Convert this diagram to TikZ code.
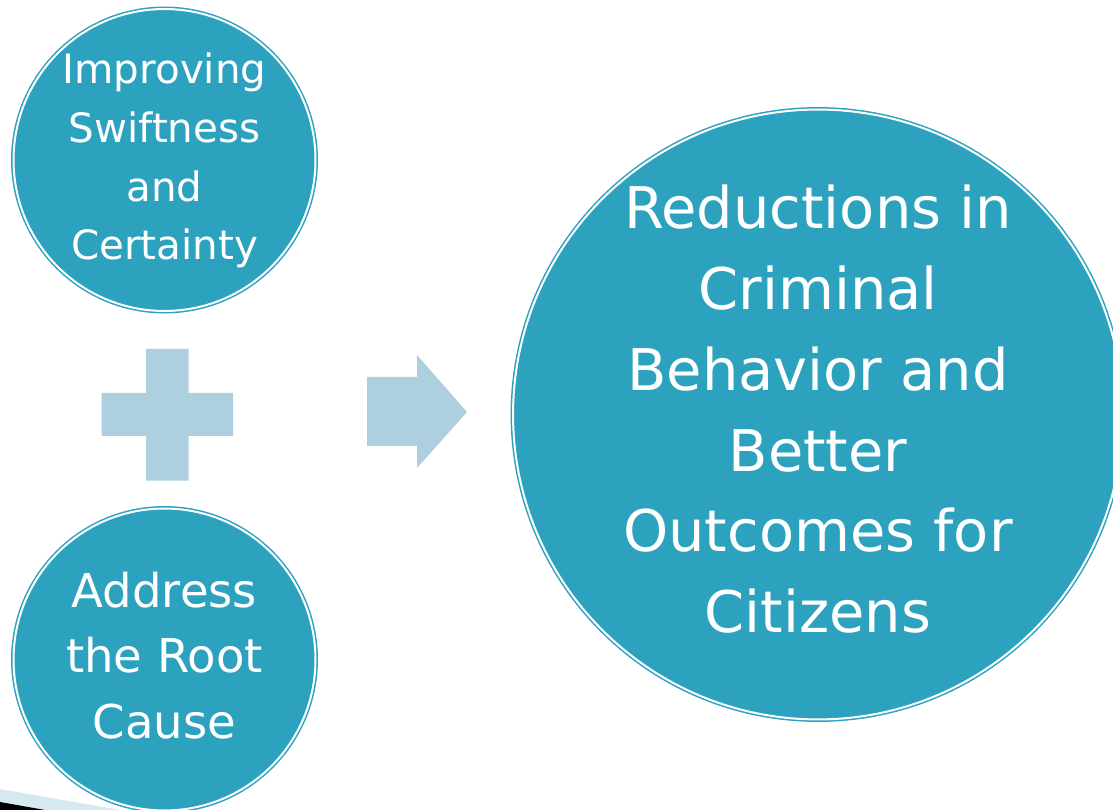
\documentclass[tikz,border=0pt]{standalone}
\usepackage{fontspec}
\setmainfont{DejaVu Sans}
\definecolor{bubblefill}{HTML}{2DA2BF}
\definecolor{signfill}{HTML}{AECFDF}
\definecolor{swooshfill}{HTML}{D6E9F1}
\begin{document}
\begin{tikzpicture}[x=0.02cm, y=-0.02cm,
	bubble/.style={circle, fill=bubblefill, draw=bubblefill, line width=0.03cm, double=white, double distance=0.04cm, inner sep=0pt},
	caption/.style={text=white, inner sep=0pt}]
%			\draw[help lines] (0,0) grid (1113,810);
			\useasboundingbox (0,0) rectangle (1113,810);
			\clip (0,0) rectangle (1113,810);
			% corner decoration
			\fill[swooshfill] (0,789) -- (120,810) -- (0,810) -- cycle;
			\fill[black] (0,802) -- (45,810) -- (0,810) -- cycle;
			% circles
			\node[bubble, minimum size=6.04cm] (swift) at (164.5,160) {};
			\node[bubble, minimum size=6.04cm] (root) at (164.5,659.5) {};
			\node[bubble, minimum size=12.2cm] (reduce) at (818,414.5) {};
			\node[caption, font=\fontsize{23pt}{33.4pt}\selectfont] at (swift) {\begin{tabular}{@{}c@{}} Improving \\ Swiftness \\ and \\ Certainty \end{tabular}};
			\node[caption, font=\fontsize{26.5pt}{37.3pt}\selectfont] at (root) {\begin{tabular}{@{}c@{}} Address \\ the Root \\ Cause \end{tabular}};
			\node[caption, font=\fontsize{32.7pt}{46pt}\selectfont] at (reduce) {\begin{tabular}{@{}c@{}} Reductions in \\ Criminal \\ Behavior and \\ Better \\ Outcomes for \\ Citizens \end{tabular}};
			% plus and arrow
			\fill[signfill] (146,349) -- (188.7,349) -- (188.7,393) -- (233,393) -- (233,436) -- (188.7,436) -- (188.7,480.7) -- (146,480.7) -- (146,436) -- (101.7,436) -- (101.7,393) -- (146,393) -- cycle;
			\fill[signfill] (367,377) -- (417,377) -- (417,355) -- (467,412) -- (417,468) -- (417,446) -- (367,446) -- cycle;
		\end{tikzpicture}
\end{document}
